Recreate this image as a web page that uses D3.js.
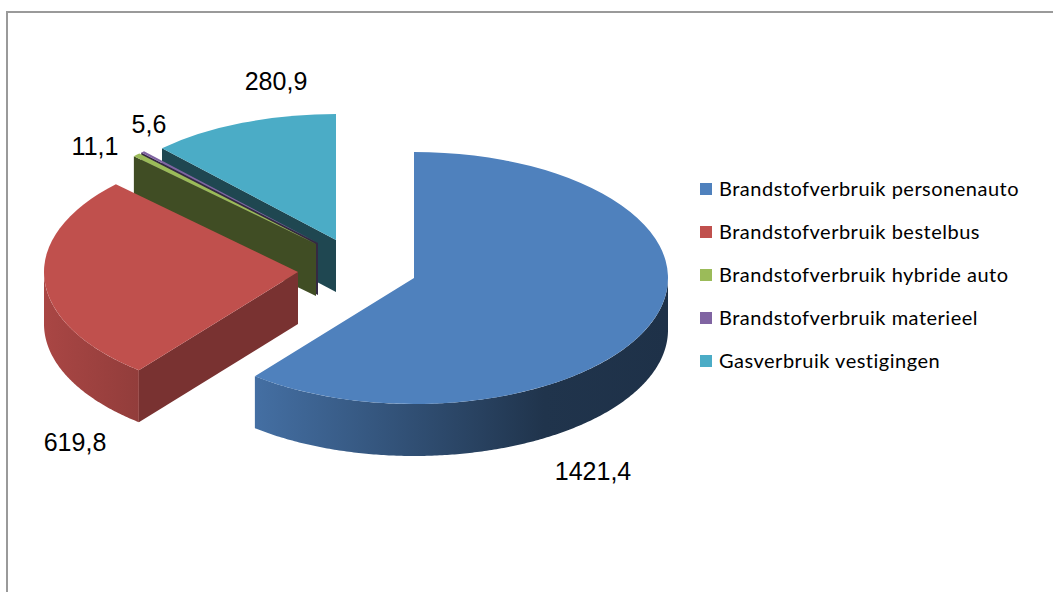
<!DOCTYPE html>
<html>
<head>
<meta charset="utf-8">
<script src="https://cdn.jsdelivr.net/npm/d3@7"></script>
<style>
  html, body { margin: 0; padding: 0; background: #fff; overflow: hidden; }
</style>
</head>
<body>
<div id="chart"></div>
<script>
// Chart data
const categories = [
    "Brandstofverbruik personenauto",
    "Brandstofverbruik bestelbus",
    "Brandstofverbruik hybride auto",
    "Brandstofverbruik materieel",
    "Gasverbruik vestigingen"
];
const values = [1421.4, 619.8, 11.1, 5.6, 280.9];
const colors = ["#4f81bd", "#c0504d", "#9bbb59", "#8064a2", "#4bacc6"];

// Layout of the exploded slices, one per category
const centers = [[414, 278], [298, 272], [316, 244], [318, 243], [336, 240]];
const labelPos = [[593, 480], [75, 451], [95, 155], [149, 133], [276, 90]];
const cutShade = [0.5, 0.63, 0.41, 0.41, 0.41];

const width = 1053, height = 592;
const rx = 254, ry = 126, depth = 52;

function createPieChart() {
    const svg = d3.select("#chart")
        .append("svg")
        .attr("width", width)
        .attr("height", height);

    // Chart frame runs off the right and bottom of the picture
    svg.append("path")
        .attr("d", `M7,${height}V12H${width}`)
        .attr("fill", "none")
        .attr("stroke", "#9a9a9a")
        .attr("stroke-width", 2);

    const shade = (c, k) => {
        const r = d3.rgb(c);
        return d3.rgb(r.r * k, r.g * k, r.b * k).formatHex();
    };

    // Gradients for the curved walls
    const defs = svg.append("defs");
    const wallGradient = (id, x1, x2, stops) => {
        const g = defs.append("linearGradient")
            .attr("id", id)
            .attr("gradientUnits", "userSpaceOnUse")
            .attr("x1", x1).attr("x2", x2)
            .attr("y1", 0).attr("y2", 0);
        stops.forEach(s => g.append("stop").attr("offset", s[0]).attr("stop-color", s[1]));
    };
    wallGradient("wall0", 255, 668, [[0, shade(colors[0], 0.86)], [0.7, shade(colors[0], 0.4)], [1, shade(colors[0], 0.38)]]);
    wallGradient("wall1", 45, 139, [[0, shade(colors[1], 0.88)], [1, shade(colors[1], 0.76)]]);

    const pie = d3.pie().sort(null).startAngle(0).endAngle(2 * Math.PI);
    const arcs = pie(values);

    // Top faces are ordinary arcs squashed vertically
    const arc = d3.arc().innerRadius(0).outerRadius(rx);
    const ex = (i, a) => centers[i][0] + rx * Math.sin(a);
    const ey = (i, a) => centers[i][1] - ry * Math.cos(a);

    const line = d3.line();

    // Back to front
    [4, 3, 2, 1, 0].forEach(i => {
        const d = arcs[i];
        const g = svg.append("g");

        // Straight cut face at the start of the slice, if it faces the viewer
        if (d.startAngle > Math.PI) {
            const p = [
                [centers[i][0], centers[i][1]],
                [ex(i, d.startAngle), ey(i, d.startAngle)],
                [ex(i, d.startAngle), ey(i, d.startAngle) + depth],
                [centers[i][0], centers[i][1] + depth]
            ];
            g.append("path")
                .attr("d", line(p) + "Z")
                .attr("fill", shade(colors[i], cutShade[i]));
        }

        // Curved outer wall: only the front half of the ellipse shows
        const a0 = Math.max(d.startAngle, Math.PI / 2);
        const a1 = Math.min(d.endAngle, 3 * Math.PI / 2);
        if (a1 > a0) {
            const top = d3.range(a0, a1, 0.01).concat([a1]);
            const outline = top.map(a => [ex(i, a), ey(i, a)])
                .concat(top.slice().reverse().map(a => [ex(i, a), ey(i, a) + depth]));
            g.append("path")
                .attr("d", line(outline) + "Z")
                .attr("fill", `url(#wall${i})`);
        }

        g.append("path")
            .attr("d", arc(d))
            .attr("transform", `translate(${centers[i][0]},${centers[i][1]}) scale(1,${ry / rx})`)
            .attr("fill", colors[i]);
    });

    // Value labels with decimal comma
    const fmt = d3.formatLocale({ decimal: ",", thousands: "", grouping: [3], currency: ["", ""] }).format(".1f");
    svg.selectAll(".value-label")
        .data(values)
        .enter()
        .append("text")
        .attr("class", "value-label")
        .attr("x", (d, i) => labelPos[i][0])
        .attr("y", (d, i) => labelPos[i][1])
        .attr("text-anchor", "middle")
        .attr("font-family", "Liberation Sans")
        .attr("font-size", 25)
        .attr("fill", "#000")
        .text(d => fmt(d));

    // Legend
    const legendY = d3.scalePoint().domain(categories).range([189, 361]);
    const legend = svg.selectAll(".legend")
        .data(categories)
        .enter()
        .append("g")
        .attr("class", "legend");
    legend.append("rect")
        .attr("x", 700)
        .attr("y", d => legendY(d) - 6)
        .attr("width", 12)
        .attr("height", 12)
        .attr("fill", (d, i) => colors[i]);
    legend.append("text")
        .attr("x", 719)
        .attr("y", d => legendY(d) + 7)
        .attr("font-family", "Lato")
        .attr("font-size", 20)
        .attr("letter-spacing", 0.5)
        .attr("fill", "#000")
        .text(d => d);
}

createPieChart();
</script>
</body>
</html>
